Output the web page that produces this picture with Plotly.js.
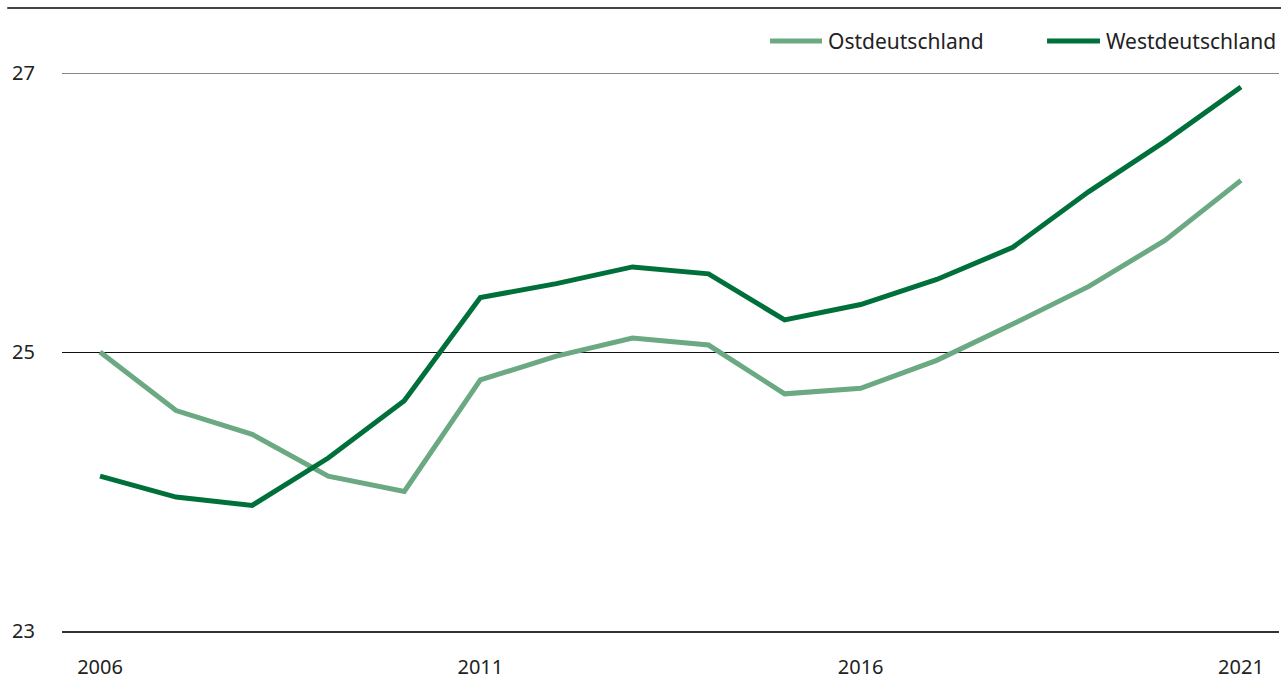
<!DOCTYPE html>
<html>
<head>
<meta charset="utf-8">
<script src="https://cdn.plot.ly/plotly-3.0.1.min.js"></script>
<style>
html,body{margin:0;padding:0;background:#fff;}
#chart{width:1281px;height:679px;}
</style>
</head>
<body>
<div id="chart"></div>
<script>
const years = [2006,2007,2008,2009,2010,2011,2012,2013,2014,2015,2016,2017,2018,2019,2020,2021];
const ostName = "Ostdeutschland";
const westName = "Westdeutschland";
const ost = [25.00,24.58,24.41,24.11,24.00,24.80,24.97,25.10,25.05,24.70,24.74,24.94,25.20,25.47,25.80,26.23];
const west = [24.11,23.96,23.90,24.24,24.65,25.39,25.49,25.61,25.56,25.23,25.34,25.52,25.75,26.15,26.51,26.90];
const xTicks = [2006,2011,2016,2021];
const yTicks = [23,25,27];
const ostColor = '#6aa982';
const westColor = '#00703a';

const font = "'Source Sans Pro','Noto Sans','Open Sans',sans-serif";

const traces = [
  {x: years, y: ost, name: ostName, type: 'scatter', mode: 'lines',
   line: {color: ostColor, width: 5}},
  {x: years, y: west, name: westName, type: 'scatter', mode: 'lines',
   line: {color: westColor, width: 5}}
];

const legY = 1.0573;
const layout = {
  width: 1281, height: 679,
  margin: {l: 62, r: 2, t: 73, b: 48},
  paper_bgcolor: '#fff', plot_bgcolor: '#fff',
  font: {family: font, size: 21, color: '#222'},
  showlegend: false,
  xaxis: {range: [2005.5, 2021.5], tickvals: xTicks, ticktext: xTicks.map(String),
          showgrid: false, zeroline: false, showline: true, linecolor: '#333', linewidth: 2,
          ticks: '', ticklabelstandoff: 17, tickfont: {family: font, size: 20, color: '#222'}},
  yaxis: {range: [23, 27], tickvals: yTicks, ticktext: yTicks.map(String),
          showgrid: true, gridcolor: '#111', gridwidth: 1, zeroline: false, showline: false,
          ticks: '', ticklabelstandoff: 26, tickfont: {family: font, size: 20, color: '#222'}},
  shapes: [
    {type: 'line', xref: 'paper', yref: 'paper', x0: -0.045, x1: 1.002, y0: 1.1165, y1: 1.1165,
     line: {color: '#444', width: 2}},
    {type: 'line', xref: 'paper', yref: 'y', x0: 0, x1: 1, y0: yTicks[2], y1: yTicks[2],
     line: {color: '#111', width: 1}},
    {type: 'line', xref: 'paper', yref: 'paper', x0: 0.5818, x1: 0.6245, y0: legY, y1: legY,
     line: {color: ostColor, width: 5}},
    {type: 'line', xref: 'paper', yref: 'paper', x0: 0.8094, x1: 0.8529, y0: legY, y1: legY,
     line: {color: westColor, width: 5}}
  ],
  annotations: [
    {xref: 'paper', yref: 'paper', x: 0.6278, y: legY, xanchor: 'left', yanchor: 'middle',
     text: ostName, showarrow: false, font: {family: font, size: 21, color: '#222'}},
    {xref: 'paper', yref: 'paper', x: 0.8562, y: legY, xanchor: 'left', yanchor: 'middle',
     text: westName, showarrow: false, font: {family: font, size: 21, color: '#222'}}
  ]
};

Plotly.newPlot('chart', traces, layout, {displayModeBar: false, staticPlot: true});
</script>
</body>
</html>
